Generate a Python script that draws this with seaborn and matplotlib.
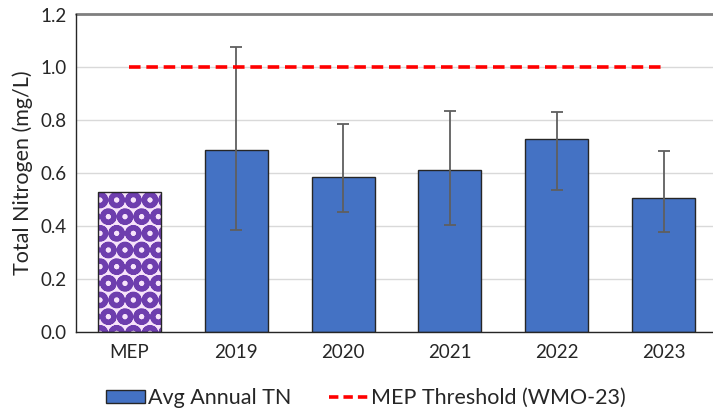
import numpy as np
import matplotlib
matplotlib.use("Agg")
import matplotlib.pyplot as plt
import seaborn as sns
from matplotlib.patches import Patch
from matplotlib.lines import Line2D

# data
categories = ['MEP', '2019', '2020', '2021', '2022', '2023']
avg_tn = [0.528, 0.687, 0.585, 0.611, 0.727, 0.505]
err_low = [None, 0.383, 0.451, 0.404, 0.535, 0.375]
err_high = [None, 1.078, 0.785, 0.834, 0.830, 0.684]
threshold = [1.0, 1.0, 1.0, 1.0, 1.0, 1.0]
y_ticks = [0.0, 0.2, 0.4, 0.6, 0.8, 1.0, 1.2]

sns.set_style("white")
plt.rcParams['font.family'] = ['Lato', 'DejaVu Sans']
plt.rcParams['hatch.linewidth'] = 3.6

fig = plt.figure(figsize=(7.13, 4.11), dpi=100)
ax = fig.add_axes([76 / 713, 79.5 / 411, 641 / 713, 317 / 411])

bar_color = '#4472C4'
sns.barplot(x=categories, y=avg_tn, color=bar_color, edgecolor='#262626',
            linewidth=1.0, width=0.59, saturation=1, ax=ax, zorder=2)

# MEP bar gets the purple pattern fill
mep = ax.patches[0]
mep.set_facecolor('#f7e4fa')
mep.set_edgecolor('#6e3eae')
mep.set_hatch('O')
mep.set_linewidth(0)
ax.bar(0, avg_tn[0], width=0.59, facecolor='none', edgecolor='#262626',
       linewidth=1.0, zorder=3)

# asymmetric error bars for the yearly bars
xs = np.arange(1, len(categories))
means = np.array(avg_tn[1:])
lo = means - np.array(err_low[1:])
hi = np.array(err_high[1:]) - means
ax.errorbar(xs, means, yerr=[lo, hi], fmt='none', ecolor='#5f5f5f',
            elinewidth=1.3, capsize=4, capthick=1.3, zorder=4)

# threshold line
ax.plot(np.arange(len(categories)), threshold, color='#ff0000', linewidth=2.6,
        linestyle=(0, (3.2, 1.6)), zorder=5)

ax.set_ylim(0, 1.2)
ax.set_xlim(-0.5, len(categories) - 0.5)
ax.set_yticks(y_ticks)
ax.set_yticklabels([f'{t:.1f}' for t in y_ticks])
ax.yaxis.grid(True, color='#d9d9d9', linewidth=1.0, zorder=0)
ax.set_axisbelow(True)
ax.axhline(1.2, color='#7f7f7f', linewidth=2.0, zorder=1, clip_on=False)

ax.set_xticks(np.arange(len(categories) + 1) - 0.5, minor=True)
ax.tick_params(axis='x', which='major', length=0, pad=9, labelsize=13.5)
ax.tick_params(axis='x', which='minor', length=5, width=1, color='#262626', direction='out')
ax.tick_params(axis='y', length=4, width=1, color='#262626', direction='out', labelsize=13.5, pad=3)

for side in ['top', 'right']:
    ax.spines[side].set_visible(False)
for side in ['left', 'bottom']:
    ax.spines[side].set_color('#262626')
    ax.spines[side].set_linewidth(1.0)

ax.set_ylabel('Total Nitrogen (mg/L)', fontsize=15.5, labelpad=5)
ax.set_xlabel('')

handles = [Patch(facecolor=bar_color, edgecolor='#262626', linewidth=1.0),
           Line2D([0], [0], color='#ff0000', linewidth=2.6, linestyle=(0, (2.6, 1.4)))]
fig.legend(handles, ['Avg Annual TN', 'MEP Threshold (WMO-23)'], loc='center',
           bbox_to_anchor=(366 / 713, 1 - 398 / 411), ncol=2, frameon=False,
           fontsize=15.5, handlelength=1.8, handleheight=0.55, columnspacing=1.75,
           handletextpad=0.15, borderpad=0, borderaxespad=0)

fig.savefig('out.png', dpi=100)
